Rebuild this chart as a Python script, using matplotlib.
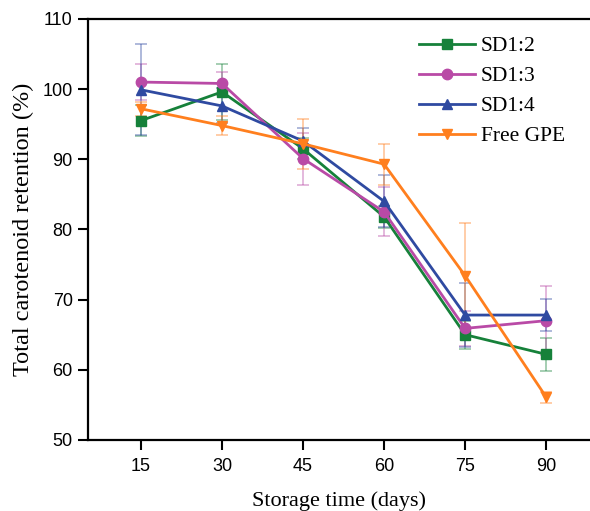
import matplotlib.pyplot as plt

days = [15, 30, 45, 60, 75, 90]

sd12 = [95.5, 99.6, 91.5, 81.8, 65.0, 62.2]
sd12_err = [2.2, 4.0, 1.5, 1.6, 2.0, 2.4]
sd13 = [101.0, 100.8, 90.1, 82.5, 65.9, 67.0]
sd13_err = [2.6, 1.6, 3.7, 3.5, 2.5, 4.9]
sd14 = [99.9, 97.6, 92.6, 84.0, 67.8, 67.8]
sd14_err = [6.5, 2.5, 1.9, 3.7, 4.6, 2.3]
free = [97.2, 94.8, 92.2, 89.3, 73.4, 56.1]
free_err = [1.0, 1.3, 3.6, 2.9, 7.5, 0.8]

series = [
    ('SD1:2', sd12, sd12_err, '#16813a', 's'),
    ('SD1:3', sd13, sd13_err, '#b94aa6', 'o'),
    ('SD1:4', sd14, sd14_err, '#2f4aa1', '^'),
    ('Free GPE', free, free_err, '#ff7f1e', 'v'),
]

fig = plt.figure(figsize=(5.9, 5.11), dpi=100)
ax = fig.add_axes([0.149, 0.139, 0.851, 0.824])

for name, vals, err, c, m in series:
    ax.errorbar(days, vals, yerr=err, fmt='none', ecolor=c, alpha=0.45,
                elinewidth=1.2, capsize=4, capthick=1.2)
for name, vals, err, c, m in series:
    ax.plot(days, vals, color=c, marker=m, markersize=7.5, linewidth=2, label=name)

ax.set_xlim(5.2, 98.1)
ax.set_ylim(50, 110)
ax.set_xticks(days)
ax.set_yticks([50, 60, 70, 80, 90, 100, 110])
ax.spines['right'].set_visible(False)
for s in ['left', 'bottom', 'top']:
    ax.spines[s].set_linewidth(1.6)
ax.tick_params(direction='out', length=7, width=1.5, labelsize=13,
               labelfontfamily='Liberation Sans', pad=4)
ax.tick_params(axis='x', pad=6)

ax.set_xlabel('Storage time (days)', fontsize=16, family='Liberation Serif', labelpad=12)
ax.set_ylabel('Total carotenoid retention (%)', fontsize=17.5, family='Liberation Serif', labelpad=6)

ax.legend(loc='upper left', bbox_to_anchor=(0.62, 1.005), frameon=False,
          prop={'family': 'Liberation Serif', 'size': 15.5}, handlelength=2.6,
          labelspacing=0.46, handletextpad=0.3)

fig.savefig('out.png', dpi=100)
